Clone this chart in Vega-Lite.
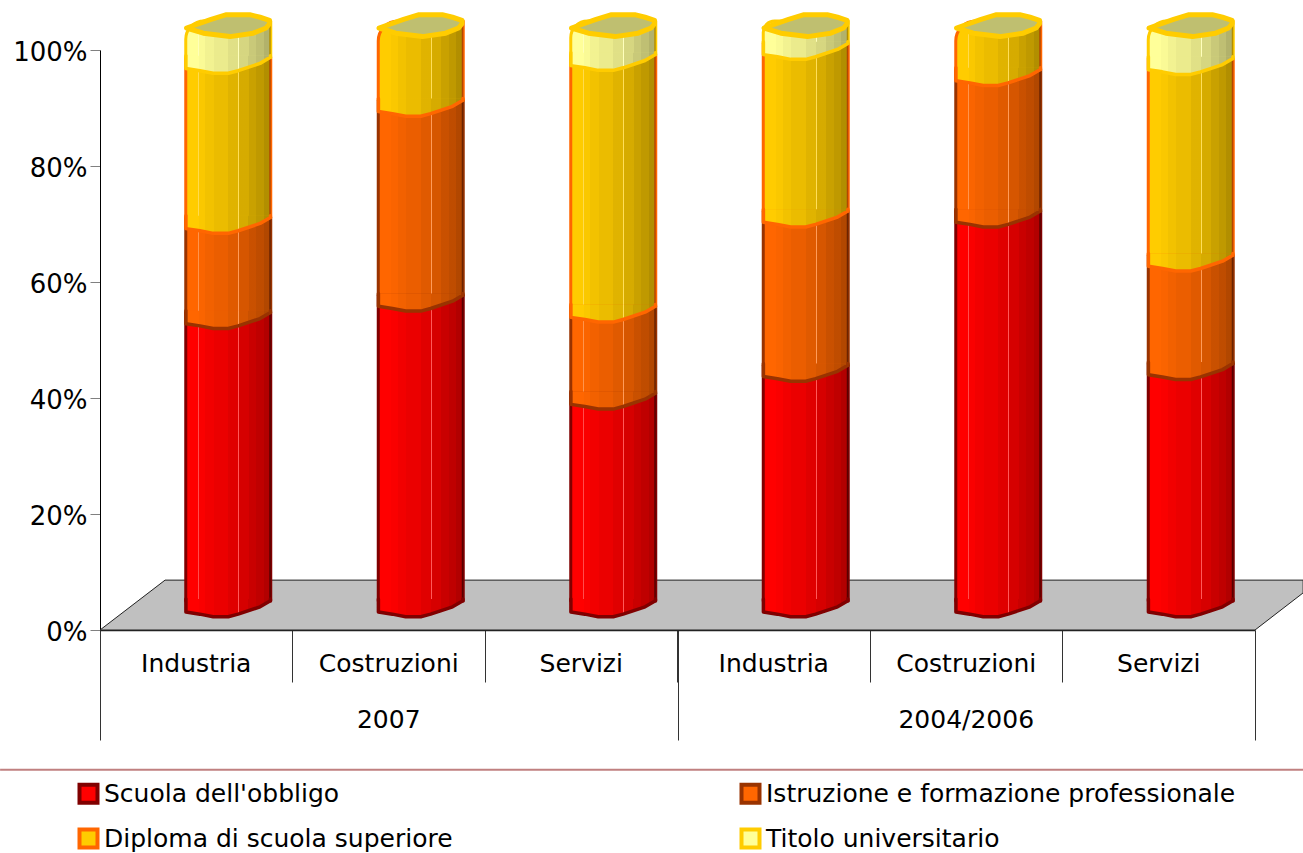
{
"$schema":"https://vega.github.io/schema/vega-lite/v6.json",
"width":1155,"height":580,
"autosize":{"type":"none"},
"padding":{"left":100,"top":50,"right":48,"bottom":223},
"background":"white",
"config":{"view":{"stroke":null},"font":"DejaVu Sans",
 "axisY":{"tickCount":6,"grid":false,"labelExpr":"datum.value+'%'","labelFontSize":26,"labelColor":"#000000","labelPadding":3,"labelOffset":2,"tickSize":10,"tickColor":"#808080","tickWidth":1,"domainColor":"#000000","domainWidth":1}},
"resolve":{"scale":{"x":"independent"},"axis":{"x":"independent"}},
"layer":[
 {"layer":[
  {"data":{"values":[{"p":0,"top":0,"bot":0},{"p":0.338,"top":8.6,"bot":0},{"p":6,"top":8.6,"bot":0},{"p":6.25,"top":8.6,"bot":6.4}]},
   "mark":{"type":"area","orient":"vertical","fill":"#c0c0c0","stroke":"#222222","strokeWidth":1,"clip":false},
   "encoding":{
    "x":{"field":"p","type":"quantitative","scale":{"domain":[0,6],"nice":false,"zero":false},
      "axis":{"orient":"bottom","values":[0,3,6],"title":null,"labels":false,"domain":false,"grid":false,"tickSize":110,"tickColor":"#333333","tickWidth":1}},
    "y":{"field":"top","type":"quantitative","title":null,"scale":{"domain":[0,100],"nice":false,"zero":false}},
    "y2":{"field":"bot"}}},
  {"data":{"values":[{"a":-0.519,"b":6.25,"lev":-24.1}]},
   "mark":{"type":"rule","stroke":"#c08080","strokeWidth":2,"clip":false},
   "encoding":{"x":{"field":"a","type":"quantitative"},"x2":{"field":"b"},"y":{"field":"lev","type":"quantitative","title":null}}},
  {"data":{"values":[{"g":"2007","p":1.5,"lev":-15.5},{"g":"2004/2006","p":4.5,"lev":-15.5}]},
   "mark":{"type":"text","fontSize":25,"color":"#000000","baseline":"middle","align":"center"},
   "encoding":{"x":{"field":"p","type":"quantitative"},"y":{"field":"lev","type":"quantitative","title":null},"text":{"field":"g"}}}
 ]},
 {"data":{"values":[
  {"key":"2007 Industria","s":"Scuola dell'obbligo","v":49.7},{"key":"2007 Industria","s":"Istruzione e formazione professionale","v":16.4},{"key":"2007 Industria","s":"Diploma di scuola superiore","v":27.6},{"key":"2007 Industria","s":"Titolo universitario","v":6.3},
  {"key":"2007 Costruzioni","s":"Scuola dell'obbligo","v":52.7},{"key":"2007 Costruzioni","s":"Istruzione e formazione professionale","v":33.6},{"key":"2007 Costruzioni","s":"Diploma di scuola superiore","v":13.7},{"key":"2007 Costruzioni","s":"Titolo universitario","v":0},
  {"key":"2007 Servizi","s":"Scuola dell'obbligo","v":35.8},{"key":"2007 Servizi","s":"Istruzione e formazione professionale","v":15},{"key":"2007 Servizi","s":"Diploma di scuola superiore","v":43.4},{"key":"2007 Servizi","s":"Titolo universitario","v":5.8},
  {"key":"2004/2006 Industria","s":"Scuola dell'obbligo","v":40.6},{"key":"2004/2006 Industria","s":"Istruzione e formazione professionale","v":26.6},{"key":"2004/2006 Industria","s":"Diploma di scuola superiore","v":28.9},{"key":"2004/2006 Industria","s":"Titolo universitario","v":3.9},
  {"key":"2004/2006 Costruzioni","s":"Scuola dell'obbligo","v":67.2},{"key":"2004/2006 Costruzioni","s":"Istruzione e formazione professionale","v":24.4},{"key":"2004/2006 Costruzioni","s":"Diploma di scuola superiore","v":8.4},{"key":"2004/2006 Costruzioni","s":"Titolo universitario","v":0},
  {"key":"2004/2006 Servizi","s":"Scuola dell'obbligo","v":40.9},{"key":"2004/2006 Servizi","s":"Istruzione e formazione professionale","v":18.7},{"key":"2004/2006 Servizi","s":"Diploma di scuola superiore","v":33.9},{"key":"2004/2006 Servizi","s":"Titolo universitario","v":6.5}
 ]},
 "transform":[{"stack":"v","groupby":["key"],"as":["y0","y1"]}],
 "encoding":{
  "x":{"field":"key","type":"nominal","sort":null,"scale":{"type":"band","paddingInner":0,"paddingOuter":0},
   "axis":{"orient":"bottom","title":null,"bandPosition":0,"labelAngle":0,"labelExpr":"split(datum.label,' ')[1]","labelFontSize":25,"labelColor":"#000000","labelPadding":-31,"tickSize":52,"tickColor":"#333333","tickWidth":1,"domainColor":"#222222","domainWidth":1.5,"grid":false}}
 },
 "layer":[
  {"transform":[{"filter":"datum.v>0 && datum.y1<99.95"}],
   "mark":{"type":"bar","size":85,"xOffset":32,"yOffset":-29,"y2Offset":-29,"strokeWidth":3,"strokeJoin":"round","opacity":1},
   "encoding":{
    "y":{"field":"y1","type":"quantitative","title":null},"y2":{"field":"y0"},
    "fill":{"field":"s","type":"nominal","sort":null,"scale":{"domain":["Scuola dell'obbligo","Diploma di scuola superiore","Istruzione e formazione professionale","Titolo universitario"],"range":["#ff0000","#ffcc00","#ff6600","#ffff99"]},
     "legend":{"orient":"none","legendX":-24,"legendY":731,"columns":2,"title":null,"symbolType":"square","symbolSize":324,"symbolStrokeWidth":4,"labelFontSize":25,"labelColor":"#000000","labelLimit":800,"labelOffset":3,"columnPadding":280,"rowPadding":10,"symbolOpacity":1}},
    "stroke":{"field":"s","type":"nominal","sort":null,"scale":{"domain":["Scuola dell'obbligo","Diploma di scuola superiore","Istruzione e formazione professionale","Titolo universitario"],"range":["#800000","#ff6600","#993300","#ffcc00"]},
     "legend":{"orient":"none","legendX":-24,"legendY":731,"columns":2,"title":null,"symbolType":"square","symbolSize":324,"symbolStrokeWidth":4,"labelFontSize":25,"labelColor":"#000000","labelLimit":800,"labelOffset":3,"columnPadding":280,"rowPadding":10,"symbolOpacity":1}}}},
  {"transform":[{"filter":"datum.v>0 && datum.y1>=99.95"}],
   "mark":{"type":"bar","size":85,"xOffset":32,"yOffset":-29,"y2Offset":-29,"strokeWidth":3,"strokeJoin":"round","cornerRadiusTopLeft":20,"opacity":1},
   "encoding":{
    "y":{"field":"y1","type":"quantitative","title":null},"y2":{"field":"y0"},
    "fill":{"field":"s","type":"nominal","sort":null,"legend":null},
    "stroke":{"field":"s","type":"nominal","sort":null,"legend":null}}},
  {"transform":[{"filter":"datum.v>0"}],
   "mark":{"type":"bar","size":85,"xOffset":32,"yOffset":-29,"y2Offset":-29,"strokeWidth":0,"cornerRadiusTopLeft":20,"fill":{"gradient":"linear","x1":0,"y1":0,"x2":1,"y2":0,"stops":[{"offset":0,"color":"rgba(0,0,0,0)"},{"offset":0.15,"color":"rgba(0,0,0,0)"},{"offset":0.15,"color":"rgba(255,255,255,0.3)"},{"offset":0.155,"color":"rgba(255,255,255,0.3)"},{"offset":0.155,"color":"rgba(0,0,0,0.02)"},{"offset":0.23,"color":"rgba(0,0,0,0.02)"},{"offset":0.23,"color":"rgba(0,0,0,0.05)"},{"offset":0.33,"color":"rgba(0,0,0,0.05)"},{"offset":0.33,"color":"rgba(0,0,0,0.08)"},{"offset":0.5,"color":"rgba(0,0,0,0.08)"},{"offset":0.5,"color":"rgba(0,0,0,0.12)"},{"offset":0.62,"color":"rgba(0,0,0,0.12)"},{"offset":0.62,"color":"rgba(255,255,255,0.35)"},{"offset":0.627,"color":"rgba(255,255,255,0.35)"},{"offset":0.627,"color":"rgba(0,0,0,0.16)"},{"offset":0.74,"color":"rgba(0,0,0,0.16)"},{"offset":0.74,"color":"rgba(0,0,0,0.21)"},{"offset":0.83,"color":"rgba(0,0,0,0.21)"},{"offset":0.83,"color":"rgba(0,0,0,0.25)"},{"offset":0.92,"color":"rgba(0,0,0,0.25)"},{"offset":0.92,"color":"rgba(0,0,0,0.3)"},{"offset":1,"color":"rgba(0,0,0,0.3)"}]}},
   "encoding":{"y":{"field":"y1","type":"quantitative","title":null},"y2":{"field":"y0"}}},
  {"transform":[{"filter":"datum.v>0"}],
   "mark":{"type":"point","shape":"M-0.985,-0.3 L-0.985,0 L-0.66,0.05 L-0.35,0.11 L0,0.11 L0.23,0.05 L0.74,-0.12 L0.98,-0.26 L0.98,-0.3 Z","size":7396,"filled":true,"opacity":1,"strokeWidth":0,"xOffset":32,"yOffset":-18},
   "encoding":{"y":{"field":"y0","type":"quantitative","title":null},"fill":{"field":"s","type":"nominal","sort":null,"legend":null}}},
  {"transform":[{"filter":"datum.v>0"}],
   "mark":{"type":"point","shape":"M-0.985,-0.3 L-0.985,0 L-0.66,0.05 L-0.35,0.11 L0,0.11 L0.23,0.05 L0.74,-0.12 L0.98,-0.26 L0.98,-0.3 Z","size":7396,"filled":true,"opacity":1,"strokeWidth":0,"xOffset":32,"yOffset":-18,"fill":{"gradient":"linear","x1":0,"y1":0,"x2":1,"y2":0,"stops":[{"offset":0,"color":"rgba(0,0,0,0)"},{"offset":0.15,"color":"rgba(0,0,0,0)"},{"offset":0.15,"color":"rgba(255,255,255,0.3)"},{"offset":0.155,"color":"rgba(255,255,255,0.3)"},{"offset":0.155,"color":"rgba(0,0,0,0.02)"},{"offset":0.23,"color":"rgba(0,0,0,0.02)"},{"offset":0.23,"color":"rgba(0,0,0,0.05)"},{"offset":0.33,"color":"rgba(0,0,0,0.05)"},{"offset":0.33,"color":"rgba(0,0,0,0.08)"},{"offset":0.5,"color":"rgba(0,0,0,0.08)"},{"offset":0.5,"color":"rgba(0,0,0,0.12)"},{"offset":0.62,"color":"rgba(0,0,0,0.12)"},{"offset":0.62,"color":"rgba(255,255,255,0.35)"},{"offset":0.627,"color":"rgba(255,255,255,0.35)"},{"offset":0.627,"color":"rgba(0,0,0,0.16)"},{"offset":0.74,"color":"rgba(0,0,0,0.16)"},{"offset":0.74,"color":"rgba(0,0,0,0.21)"},{"offset":0.83,"color":"rgba(0,0,0,0.21)"},{"offset":0.83,"color":"rgba(0,0,0,0.25)"},{"offset":0.92,"color":"rgba(0,0,0,0.25)"},{"offset":0.92,"color":"rgba(0,0,0,0.3)"},{"offset":1,"color":"rgba(0,0,0,0.3)"}]}},
   "encoding":{"y":{"field":"y0","type":"quantitative","title":null}}},
  {"transform":[{"filter":"datum.v>0"}],
   "mark":{"type":"point","shape":"M-0.985,-0.3 L-0.985,0 L-0.66,0.05 L-0.35,0.11 L0,0.11 L0.23,0.05 L0.74,-0.12 L0.98,-0.26 L0.98,-0.3","size":7396,"filled":false,"opacity":1,"fillOpacity":0,"strokeWidth":3.5,"strokeJoin":"round","strokeCap":"round","xOffset":32,"yOffset":-18},
   "encoding":{"y":{"field":"y0","type":"quantitative","title":null},"stroke":{"field":"s","type":"nominal","sort":null,"legend":null}}},
  {"transform":[{"filter":"datum.s==='Titolo universitario'"}],
   "mark":{"type":"point","shape":"M-0.97,0 L-0.4,-0.2 L-0.04,-0.31 L0.5,-0.31 L0.74,-0.25 L0.96,-0.18 L0.96,-0.1 L0.88,0 L0.58,0.12 L0.04,0.2 L-0.58,0.12 Z","size":7396,"filled":true,"opacity":1,"fill":"#bfbf70","stroke":"#ffcc00","strokeWidth":5,"strokeJoin":"round","xOffset":32,"yOffset":-22},
   "encoding":{"y":{"field":"y1","type":"quantitative","title":null}}}
 ]}
]}
